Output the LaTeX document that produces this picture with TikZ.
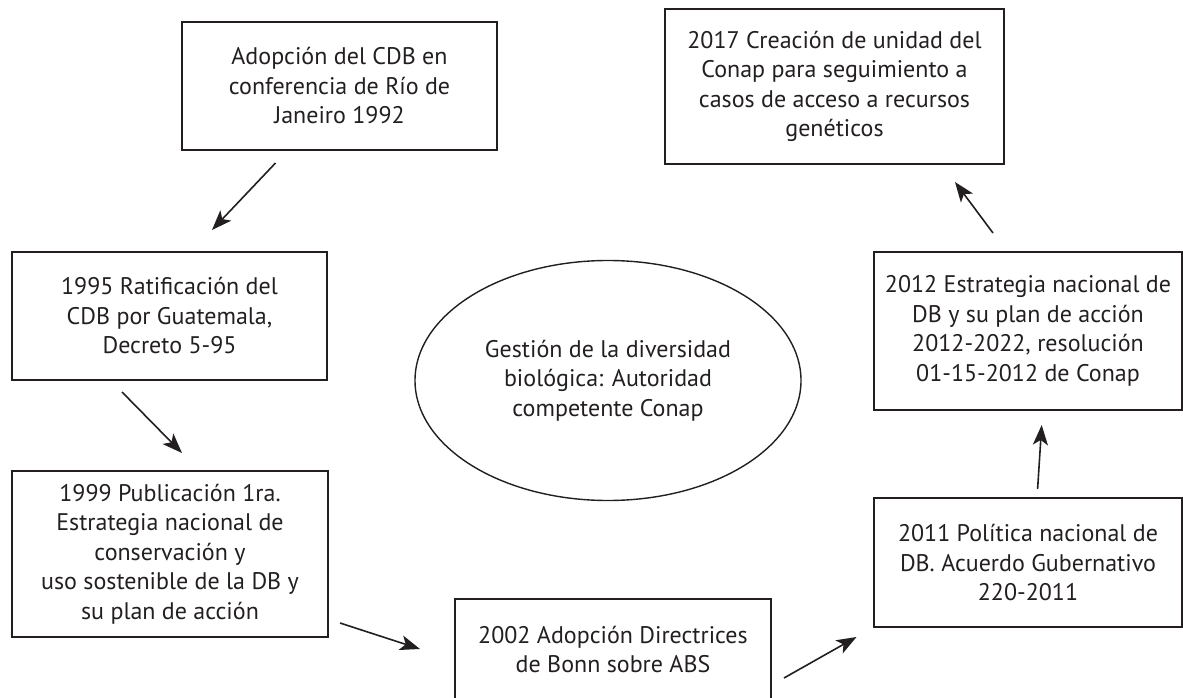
\documentclass[tikz,border=0pt]{standalone}
\usepackage{fontspec}
\setmainfont{PT Sans}
\usetikzlibrary{arrows.meta,shapes.geometric}
\definecolor{ink}{HTML}{231F20}
\begin{document}
\begin{tikzpicture}[x=1pt,y=-1pt,
  txt/.style={font=\fontsize{24}{29.5}\selectfont, text=ink, align=center},
  box/.style={txt, draw=ink, line width=1.7pt, inner sep=0pt},
  oval/.style={txt, draw=ink, line width=1.4pt, ellipse, inner sep=0pt},
  arr/.style={draw=ink, line width=1.6pt, -{Stealth[length=20pt,width=15pt,inset=5pt]}}]
\useasboundingbox (0,0) rectangle (1183,698);
\clip (0,0) rectangle (1183,698);
\node[box, minimum width=315pt, minimum height=128pt] (b1) at (339.5,86)
  {Adopción del CDB en\\ conferencia de Río de\\ Janeiro 1992};
\node[box, minimum width=315pt, minimum height=128pt] (b2) at (169.5,316)
  {1995 Ratificación del\\ CDB por Guatemala,\\ Decreto 5-95};
\node[box, minimum width=316pt, minimum height=166pt] (b3) at (170,554)
  {1999 Publicación 1ra.\\ Estrategia nacional de\\ conservación y\\ uso sostenible de la DB y\\ su plan de acción};
\node[box, minimum width=316pt, minimum height=101pt] (b4) at (613,649.5)
  {2002 Adopción Directrices\\ de Bonn sobre ABS};
\node[box, minimum width=308pt, minimum height=129pt] (b5) at (1028,562.5)
  {2011 Política nacional de\\ DB. Acuerdo Gubernativo\\ 220-2011};
\node[box, minimum width=308pt, minimum height=158pt] (b6) at (1028,331)
  {2012 Estrategia nacional de\\ DB y su plan de acción\\ 2012-2022, resolución\\ 01-15-2012 de Conap};
\node[box, minimum width=339pt, minimum height=155pt] (b7) at (834.5,86.5)
  {2017 Creación de unidad del\\ Conap para seguimiento a\\ casos de acceso a recursos\\ genéticos};
\node[oval, minimum width=386pt, minimum height=240pt] (c) at (608,380.5)
  {Gestión de la diversidad\\ biológica: Autoridad\\ competente Conap};
\coordinate (a1s) at (275.5,163); \coordinate (a1e) at (212,230);
\coordinate (a2s) at (122,392);   \coordinate (a2e) at (182,453);
\coordinate (a3s) at (340,623);   \coordinate (a3e) at (420,649);
\coordinate (a4s) at (784,678);   \coordinate (a4e) at (856.5,637);
\coordinate (a5s) at (1037.6,489);\coordinate (a5e) at (1041.7,425);
\coordinate (a6s) at (993,233);   \coordinate (a6e) at (955,182);
\draw[arr] (a1s) -- (a1e);
\draw[arr] (a2s) -- (a2e);
\draw[arr] (a3s) -- (a3e);
\draw[arr] (a4s) -- (a4e);
\draw[arr] (a5s) -- (a5e);
\draw[arr] (a6s) -- (a6e);
\end{tikzpicture}
\end{document}
